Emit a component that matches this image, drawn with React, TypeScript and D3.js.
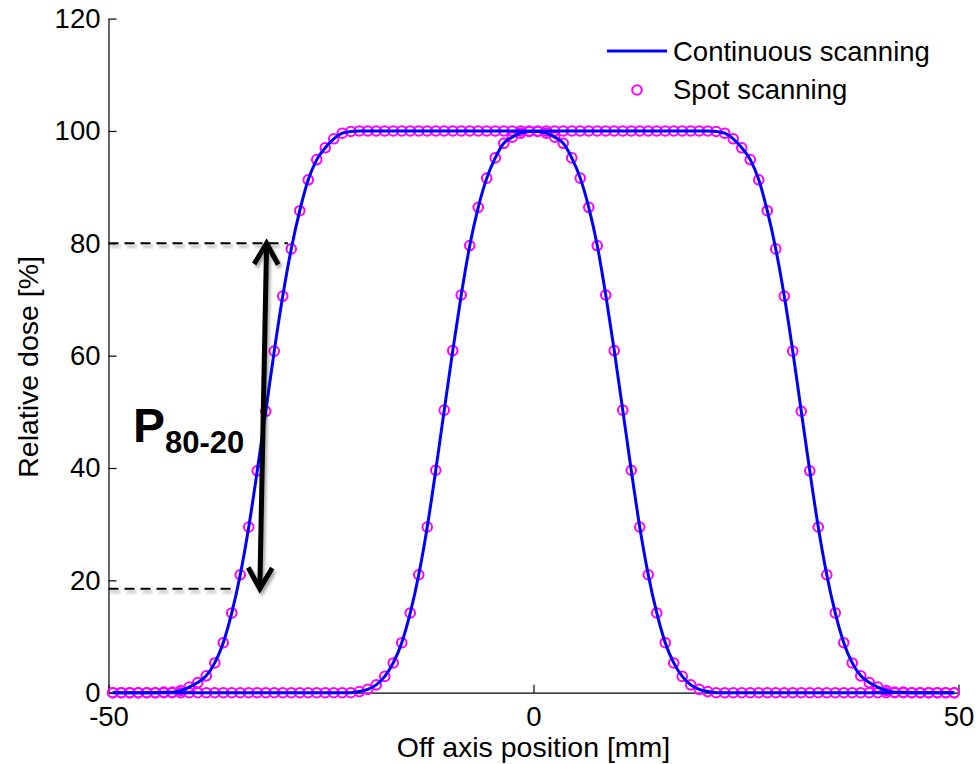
import React, { useEffect, useRef } from "react";
import * as d3 from "d3";

// Sampling positions of the dose profiles (mm), one sample per millimetre
const positions: number[] = d3.range(-49.5, 50, 1);

// Narrow field profile (relative dose, %)
const narrowProfile: number[] = [
  0, 0, 0, 0, 0, 0, 0, 0, 0, 0,
  0, 0, 0, 0, 0, 0, 0, 0, 0, 0,
  0, 0, 0, 0, 0, 0, 0, 0, 0,
  0.2, 0.6, 1.4, 2.9, 5.3, 8.9, 14.2, 21.0, 29.5, 39.6,
  50.3, 60.9, 70.8, 79.6, 86.4, 91.6, 95.2, 97.8, 98.9, 99.6, 99.9,
  99.9, 99.6, 98.9, 97.8, 95.2, 91.6, 86.4, 79.6, 70.8, 60.9,
  50.3, 39.6, 29.5, 21.0, 14.2, 8.9, 5.3, 2.9, 1.4, 0.6, 0.2,
  0, 0, 0, 0, 0, 0, 0, 0, 0, 0,
  0, 0, 0, 0, 0, 0, 0, 0, 0, 0,
  0, 0, 0, 0, 0, 0, 0, 0, 0,
];

// Wide field profile (relative dose, %)
const wideProfile: number[] = [
  0, 0, 0, 0, 0, 0, 0.1, 0.1,
  0.4, 1.0, 1.8, 3.0, 5.3, 8.9, 14.2, 21.0, 29.5, 39.5,
  50.1, 60.8, 70.6, 79.0, 85.8, 91.3, 94.9, 97.0, 98.6, 99.6, 99.9,
  100, 100, 100, 100, 100, 100, 100, 100, 100, 100,
  100, 100, 100, 100, 100, 100, 100, 100, 100, 100,
  100, 100, 100, 100, 100, 100, 100, 100, 100, 100,
  100, 100, 100, 100, 100, 100, 100, 100, 100, 100,
  100, 100,
  99.9, 99.6, 98.6, 97.0, 94.9, 91.3, 85.8, 79.0, 70.6, 60.8,
  50.1, 39.5, 29.5, 21.0, 14.2, 8.9, 5.3, 3.0, 1.8, 1.0, 0.4,
  0.1, 0.1, 0, 0, 0, 0, 0, 0,
];

const xTicks: number[] = [-50, 0, 50];
const yTicks: number[] = [0, 20, 40, 60, 80, 100, 120];
const legendLabels: string[] = ["Continuous scanning", "Spot scanning"];

// Penumbra annotation: dose levels marked by the dashed guides and the arrow ends (mm, %)
const guideLevels: number[] = [80, 18.5];
const guideEnds: number[] = [-28.9, -35.5];
const arrowX: number[] = [-31.4, -32.2];

const W = 976;
const H = 764;
const FONT = "'Liberation Sans', Arial, Helvetica, sans-serif";
const FS = "27.5px";

export default function App() {
  const ref = useRef<SVGSVGElement | null>(null);

  useEffect(() => {
    const svg = d3.select(ref.current);
    svg.selectAll("*").remove();

    const x = d3.scaleLinear().domain([-50, 50]).range([108.5, 958.5]);
    const y = d3.scaleLinear().domain([0, 120]).range([692.7, 18.6]);

    const defs = svg.append("defs");
    const shadow = defs.append("filter").attr("id", "soft-shadow")
      .attr("x", "-20%").attr("y", "-20%").attr("width", "140%").attr("height", "140%");
    shadow.append("feDropShadow").attr("dx", 2).attr("dy", 3).attr("stdDeviation", 1.8)
      .attr("flood-color", "#000").attr("flood-opacity", 0.35);

    // Axes
    const gx = svg.append("g").attr("transform", `translate(0,${y(0)})`)
      .call(d3.axisBottom(x).tickValues(xTicks).tickSizeInner(-8).tickSizeOuter(0).tickPadding(14).tickFormat((d) => String(d)));
    const gy = svg.append("g").attr("transform", `translate(${x(-50)},0)`)
      .call(d3.axisLeft(y).tickValues(yTicks).tickSizeInner(-8).tickSizeOuter(0).tickPadding(8).tickFormat((d) => String(d)));
    [gx, gy].forEach((g) => {
      g.select(".domain").attr("stroke", "#000").attr("stroke-width", 1.2);
      g.selectAll(".tick line").attr("stroke", "#000").attr("stroke-width", 1.2);
      g.selectAll(".tick text").attr("fill", "#000").style("font-family", FONT).style("font-size", FS);
    });

    svg.append("text").attr("x", x(0)).attr("y", 757).attr("text-anchor", "middle")
      .style("font-family", FONT).style("font-size", "28.5px").text("Off axis position [mm]");
    svg.append("text").attr("transform", `translate(38,${y(58)}) rotate(-90)`).attr("text-anchor", "middle")
      .style("font-family", FONT).style("font-size", "28.5px").text("Relative dose [%]");

    const profiles = [wideProfile, narrowProfile];

    // Spot scanning markers
    profiles.forEach((vals) => {
      svg.append("g").selectAll("circle").data(positions).join("circle")
        .attr("cx", (d) => x(d)).attr("cy", (_d, i) => y(vals[i])).attr("r", 4.8)
        .attr("fill", "none").attr("stroke", "#ff00ff").attr("stroke-width", 2);
    });

    // Continuous scanning lines
    const line = d3.line<number>().x((d) => x(d)).curve(d3.curveMonotoneX);
    profiles.forEach((vals) => {
      svg.append("path").attr("d", line.y((_d, i) => y(vals[i]))(positions))
        .attr("fill", "none").attr("stroke", "#0000ff").attr("stroke-width", 3);
    });

    // Legend
    const lg = svg.append("g");
    lg.append("line").attr("x1", 607).attr("x2", 667).attr("y1", 51).attr("y2", 51)
      .attr("stroke", "#0000ff").attr("stroke-width", 3);
    lg.append("circle").attr("cx", 637).attr("cy", 90).attr("r", 4.8)
      .attr("fill", "none").attr("stroke", "#ff00ff").attr("stroke-width", 2);
    legendLabels.forEach((t, i) => {
      lg.append("text").attr("x", 673).attr("y", 61 + i * 38).style("font-family", FONT)
        .style("font-size", FS).text(t);
    });

    // Dashed guides at the 80 % and 20 % levels
    const ann = svg.append("g").attr("filter", "url(#soft-shadow)");
    guideLevels.forEach((lv, i) => {
      ann.append("line").attr("x1", x(-50)).attr("x2", x(guideEnds[i]))
        .attr("y1", y(lv)).attr("y2", y(lv)).attr("stroke", "#000").attr("stroke-width", 2)
        .attr("stroke-dasharray", "10 6");
    });

    // Double-headed arrow spanning the penumbra
    const p1: [number, number] = [x(arrowX[0]), y(guideLevels[0])];
    const p2: [number, number] = [x(arrowX[1]), y(guideLevels[1])];
    const dx = p2[0] - p1[0];
    const dy = p2[1] - p1[1];
    const len = Math.hypot(dx, dy);
    const ux = dx / len;
    const uy = dy / len;
    const nx = -uy;
    const ny = ux;
    const hl = 21;
    const hw = 12;
    ann.append("line").attr("x1", p1[0] + ux * 2).attr("y1", p1[1] + uy * 2)
      .attr("x2", p2[0] - ux * 2).attr("y2", p2[1] - uy * 2)
      .attr("stroke", "#000").attr("stroke-width", 5);
    const head = (p: [number, number], s: number) => {
      const bx = p[0] + s * ux * hl;
      const by = p[1] + s * uy * hl;
      return `M${bx + nx * hw},${by + ny * hw}L${p[0]},${p[1]}L${bx - nx * hw},${by - ny * hw}`;
    };
    ann.append("path").attr("d", head(p1, 1)).attr("fill", "none").attr("stroke", "#000")
      .attr("stroke-width", 5).attr("stroke-linejoin", "miter").attr("stroke-miterlimit", 10);
    ann.append("path").attr("d", head(p2, -1)).attr("fill", "none").attr("stroke", "#000")
      .attr("stroke-width", 5).attr("stroke-linejoin", "miter").attr("stroke-miterlimit", 10);

    const label = svg.append("text").attr("x", 133).attr("y", 442)
      .style("font-family", FONT).style("font-weight", "bold").attr("fill", "#000");
    label.append("tspan").style("font-size", "48px").text("P");
    label.append("tspan").attr("dy", 11).style("font-size", "31px").text("80-20");
  }, []);

  return (
    <svg ref={ref} width={W} height={H} style={{ position: "absolute", left: 0, top: 0, background: "#fff" }} />
  );
}
